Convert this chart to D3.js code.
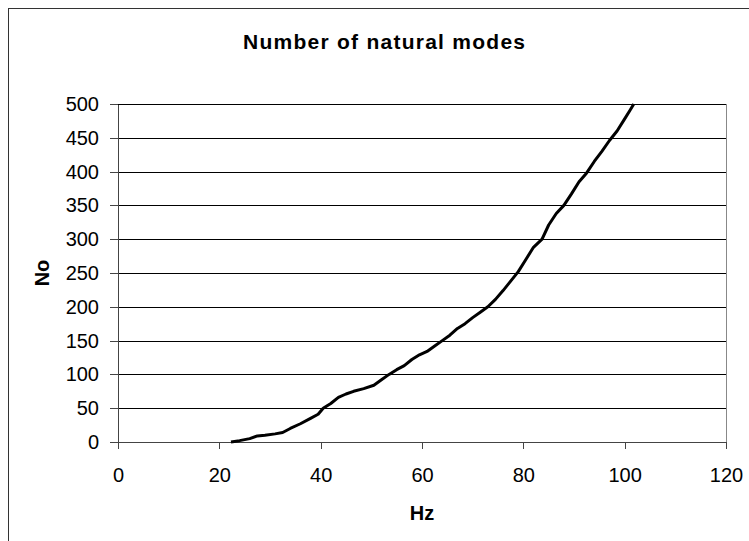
<!DOCTYPE html>
<meta charset="utf-8">
<head>
    <title>Number of natural modes</title>
</head>
<style>
 body { margin: 0; background: white; }
 svg text { font-family: "Liberation Sans", Arial, sans-serif; fill: black; }
 .grid line { stroke: black; stroke-width: 1px; shape-rendering: crispEdges; }
 .axis path, .axis line { stroke: #444; shape-rendering: crispEdges; }
 .axis text { font-size: 20px; }
</style>
<body>
    <div id="chart"></div>
    <script src="https://d3js.org/d3.v7.min.js"></script>
    <script>

     // frequency (Hz) and cumulative mode count
     var hz = [22.3, 24, 26, 27.5, 29, 31, 32.5, 34, 36, 38, 39.5, 40.5, 42, 43.5,
               45, 46.5, 48.5, 50.5, 52, 53.5, 55, 56.5, 58, 59.5, 61, 62.5, 64,
               65.5, 67, 68.5, 70, 71.5, 73, 74.5, 76, 77.5, 79, 80.5, 82, 83.7,
               85, 86.5, 88, 89.5, 91, 92.5, 94, 95.5, 97, 98.5, 100, 101, 101.8];
     var modes = [0, 2, 5, 9, 10, 12, 14, 20, 27, 35, 41, 50, 57, 66,
                  71, 75, 79, 84, 92, 100, 107, 113, 122, 129, 134, 142, 150,
                  158, 168, 175, 184, 192, 200, 211, 224, 238, 252, 270, 288, 300,
                  321, 338, 350, 367, 385, 398, 415, 430, 446, 460, 478, 490, 500];

     var xTicks = [0, 20, 40, 60, 80, 100, 120];
     var yTicks = [0, 50, 100, 150, 200, 250, 300, 350, 400, 450, 500];

     var title = "Number of natural modes",
         xTitle = "Hz",
         yTitle = "No";

     var width = 749, height = 541;
     var plot = {left: 118, right: 726, top: 104, bottom: 442};

     var svg = d3.select("#chart").append("svg")
                 .attr("width", width)
                 .attr("height", height);

     // outer chart frame (right and bottom edges fall outside the picture)
     svg.append("rect")
        .attr("x", 8.5).attr("y", 8.5)
        .attr("width", 800).attr("height", 600)
        .attr("fill", "white")
        .attr("stroke", "#333")
        .attr("stroke-width", 1);

     var x = d3.scaleLinear().domain([0, 120]).range([plot.left, plot.right]);
     var y = d3.scaleLinear().domain([0, 500]).range([plot.bottom, plot.top]);

     // horizontal gridlines
     svg.append("g")
        .attr("class", "grid")
        .selectAll("line")
        .data(yTicks)
        .enter()
        .append("line")
        .attr("x1", plot.left).attr("x2", plot.right)
        .attr("y1", function(d) { return Math.round(y(d)) + 0.5; })
        .attr("y2", function(d) { return Math.round(y(d)) + 0.5; });

     // right border of the plot area
     svg.append("line")
        .attr("x1", plot.right + 0.5).attr("x2", plot.right + 0.5)
        .attr("y1", plot.top).attr("y2", plot.bottom)
        .attr("stroke", "#888")
        .attr("shape-rendering", "crispEdges");

     var xAxis = svg.append("g")
        .attr("class", "axis")
        .attr("transform", "translate(0," + plot.bottom + ")")
        .call(d3.axisBottom(x).tickValues(xTicks).tickSize(7).tickSizeOuter(0).tickPadding(19));

     var yAxis = svg.append("g")
        .attr("class", "axis")
        .attr("transform", "translate(" + plot.left + ",0)")
        .call(d3.axisLeft(y).tickValues(yTicks).tickSize(8).tickSizeOuter(0).tickPadding(11));

     xAxis.selectAll("text").attr("font-family", null);
     yAxis.selectAll("text").attr("font-family", null);

     var line = d3.line()
                  .x(function(d, i) { return x(hz[i]); })
                  .y(function(d, i) { return y(modes[i]); })
                  .curve(d3.curveLinear);

     svg.append("path")
        .datum(modes)
        .attr("fill", "none")
        .attr("stroke", "black")
        .attr("stroke-width", 3)
        .attr("stroke-linejoin", "round")
        .attr("d", line);

     svg.append("text")
        .attr("x", 384).attr("y", 49)
        .attr("text-anchor", "middle")
        .attr("font-size", "21px")
        .attr("font-weight", "bold")
        .attr("textLength", 282)
        .attr("lengthAdjust", "spacing")
        .text(title);

     svg.append("text")
        .attr("x", (plot.left + plot.right) / 2).attr("y", 520)
        .attr("text-anchor", "middle")
        .attr("font-size", "20px")
        .attr("font-weight", "bold")
        .text(xTitle);

     svg.append("text")
        .attr("transform", "translate(49," + ((plot.top + plot.bottom) / 2) + ") rotate(-90)")
        .attr("text-anchor", "middle")
        .attr("font-size", "20px")
        .attr("font-weight", "bold")
        .text(yTitle);
    </script>
</body>
